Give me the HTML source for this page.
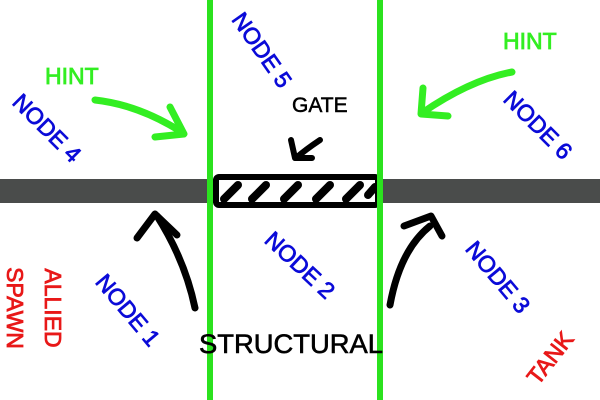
<!DOCTYPE html>
<html><head><style>html,body{margin:0;padding:0;background:#fff}svg{display:block}</style></head>
<body>
<svg width="600" height="400" xmlns="http://www.w3.org/2000/svg" font-family="Liberation Sans, sans-serif">
<rect width="600" height="400" fill="#fff"/>
<rect x="0" y="179" width="600" height="24" fill="#4a4c4b"/>
<rect x="216" y="177" width="162" height="28" rx="3" fill="#fff" stroke="#000" stroke-width="6"/>
<g stroke="#000" stroke-width="8" stroke-linecap="round">
<line x1="224" y1="199" x2="238" y2="185"/><line x1="252" y1="199" x2="266" y2="185"/>
<line x1="284" y1="199" x2="298" y2="185"/><line x1="316" y1="199" x2="330" y2="185"/>
<line x1="346" y1="199" x2="360" y2="185"/><line x1="368" y1="195" x2="375" y2="187"/>
</g>
<rect x="207" y="0" width="6" height="400" fill="#2be21e"/>
<rect x="377" y="0" width="6" height="400" fill="#2be21e"/>
<g fill="none" stroke-linecap="round" stroke-linejoin="round">
<path d="M95,100 Q140,105 183,133" stroke="#33ee22" stroke-width="7"/>
<path d="M170,107 L184,134 L155,137" stroke="#33ee22" stroke-width="7"/>
<path d="M512,72 Q470,80 422,113" stroke="#33ee22" stroke-width="7"/>
<path d="M423,88 L421,114 L448,116" stroke="#33ee22" stroke-width="7"/>
<path d="M320,140 Q305,150 296,158" stroke="#000" stroke-width="6"/>
<path d="M291,140 L295,158 L312,158" stroke="#000" stroke-width="6"/>
<path d="M195,308 Q185,260 157,216" stroke="#000" stroke-width="7"/>
<path d="M137,238 L155,214 L177,235" stroke="#000" stroke-width="7"/>
<path d="M390,305 Q400,250 430,226" stroke="#000" stroke-width="7"/>
<path d="M404,226 L431,216 L442,236" stroke="#000" stroke-width="7"/>
</g>
<g fill="#0b0bd8" stroke="#0b0bd8" stroke-width="0.8" font-size="23" text-anchor="middle">
<text transform="translate(262,50) rotate(55)" dy="8">NODE 5</text>
<text transform="translate(47,128) rotate(45)" dy="8">NODE 4</text>
<text transform="translate(538,125) rotate(45)" dy="8">NODE 6</text>
<text transform="translate(300,265) rotate(43)" dy="8">NODE 2</text>
<text transform="translate(498,277) rotate(50)" dy="8">NODE 3</text>
<text transform="translate(128,310) rotate(50)" dy="8">NODE 1</text>
</g>
<g fill="#e81818" stroke="#e81818" stroke-width="0.8" font-size="23" text-anchor="middle">
<text transform="translate(53,308) rotate(90)" dy="8">ALLIED</text>
<text transform="translate(15,308) rotate(90)" dy="8">SPAWN</text>
<text transform="translate(550,358) rotate(-52)" dy="8">TANK</text>
</g>
<g fill="#33ee22" stroke="#33ee22" stroke-width="0.8" font-size="23">
<text x="45" y="84">HINT</text>
<text x="503" y="49">HINT</text>
</g>
<text x="292" y="112" font-size="21" fill="#000" stroke="#000" stroke-width="0.5">GATE</text>
<text x="199" y="353" font-size="27" fill="#000" stroke="#000" stroke-width="0.6" textLength="184" lengthAdjust="spacingAndGlyphs">STRUCTURAL</text>
</svg>
</body></html>
